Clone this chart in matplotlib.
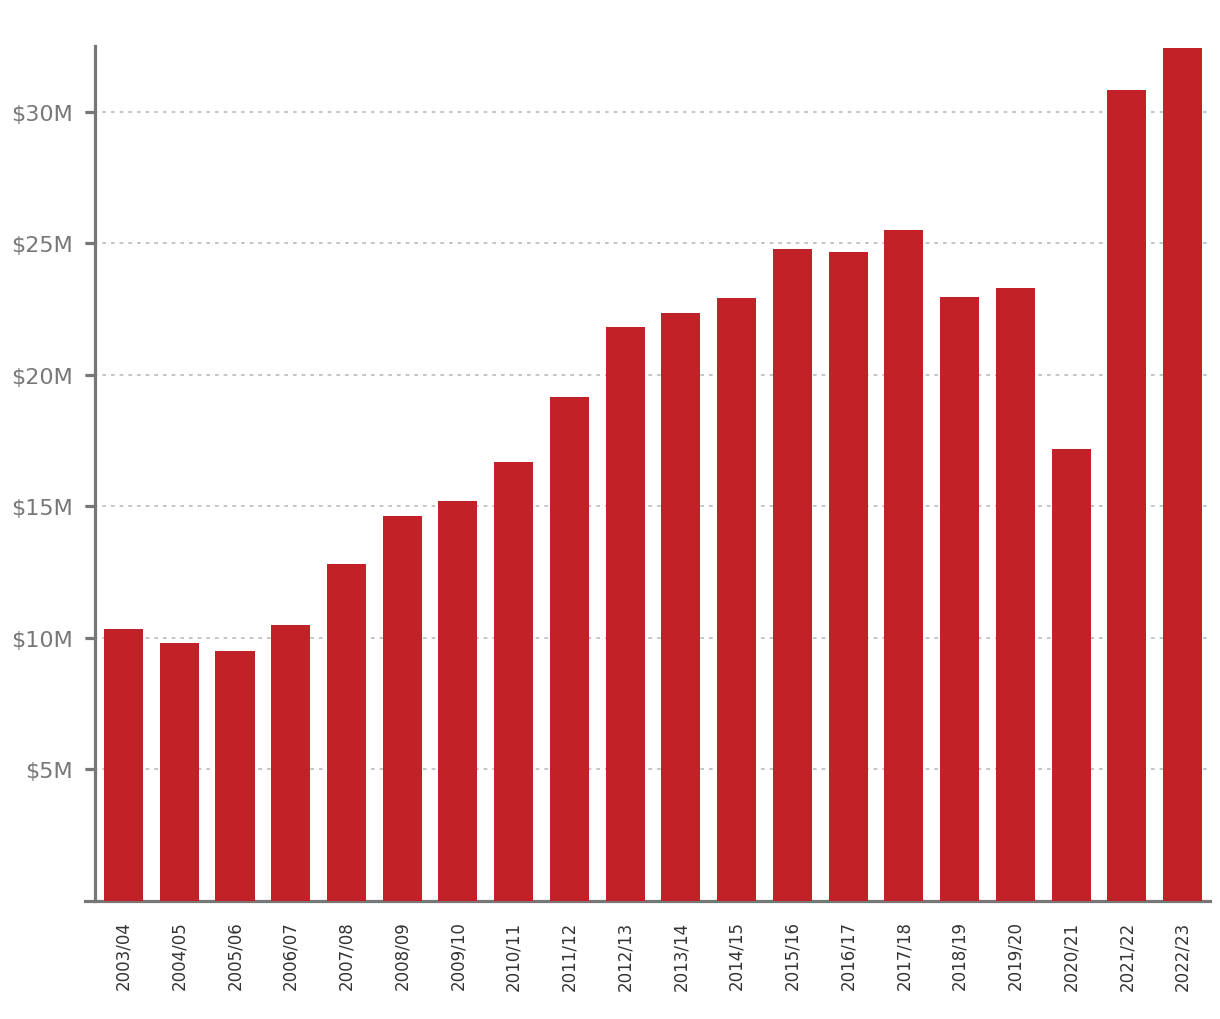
import numpy as np
import matplotlib.pyplot as plt
from matplotlib.ticker import FuncFormatter

years = ["2003/04", "2004/05", "2005/06", "2006/07", "2007/08", "2008/09",
         "2009/10", "2010/11", "2011/12", "2012/13", "2013/14", "2014/15",
         "2015/16", "2016/17", "2017/18", "2018/19", "2019/20", "2020/21",
         "2021/22", "2022/23"]
# values in $ millions
values = [10.34, 9.81, 9.51, 10.49, 12.81, 14.64, 15.21, 16.69, 19.16, 21.83,
          22.36, 22.93, 24.79, 24.68, 25.51, 22.97, 23.31, 17.19, 30.84, 32.43]
yticks = [5, 10, 15, 20, 25, 30]

fig = plt.figure(figsize=(12.2, 10.2), dpi=100)
ax = fig.add_axes([0.0697, 0.1157, 0.9221, 0.8382])

x = np.arange(len(years))
ax.bar(x, values, width=0.7, color="#c32128", zorder=3)

ax.set_xlim(-0.69, 19.49)
ax.set_ylim(0, 32.5)

ax.set_yticks(yticks)
ax.yaxis.set_major_formatter(FuncFormatter(lambda v, p: "$%dM" % v))
ax.set_xticks(x)
ax.set_xticklabels(years, rotation=90, fontsize=12, color="#333333")

ax.grid(axis="y", color="#b4bcc4", linestyle=(0, (2.2, 3)), linewidth=1.2, zorder=0)

for s in ["top", "right"]:
    ax.spines[s].set_visible(False)
ax.spines["left"].set_position(("data", -0.51))
ax.spines["left"].set_color("#777777")
ax.spines["left"].set_linewidth(2.3)
ax.spines["bottom"].set_color("#777777")
ax.spines["bottom"].set_linewidth(2.3)

ax.tick_params(axis="y", length=7, width=2.3, color="#777777", labelsize=16,
               labelcolor="#777777", pad=9)
ax.tick_params(axis="x", length=0, pad=14)

plt.savefig("out.png", dpi=100)
